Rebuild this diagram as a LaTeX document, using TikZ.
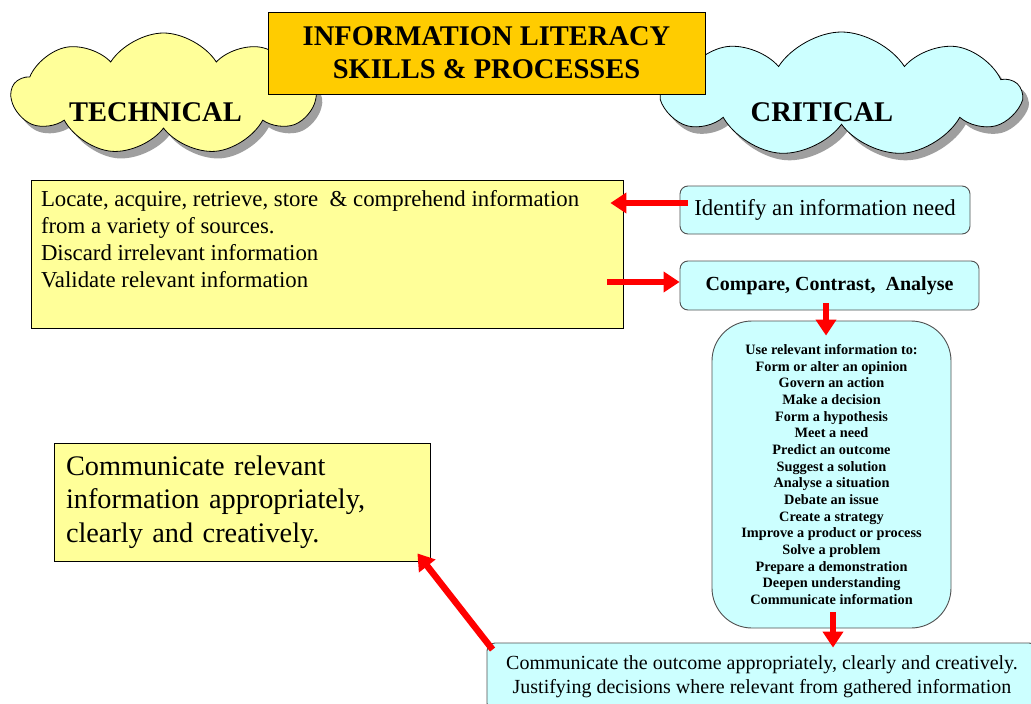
\documentclass[tikz,border=0pt]{standalone}
\usepackage{fontspec}
\setmainfont{Liberation Serif}[BoldFont={Liberation Serif Bold}]
\usetikzlibrary{shapes.symbols,shadows,arrows.meta}
\definecolor{lyellow}{HTML}{FFFF99}
\definecolor{lcyan}{HTML}{CCFFFF}
\definecolor{gold}{HTML}{FFCC00}
\definecolor{edgegray}{HTML}{505050}
\begin{document}
\begin{tikzpicture}[x=1pt,y=-1pt,
  cloudbox/.style={cloud, cloud puffs=9, cloud puff arc=115, cloud ignores aspect,
    draw=black, line width=0.8pt, inner sep=0pt,
    drop shadow={shadow xshift=6pt, shadow yshift=-7pt, fill=gray!75, opacity=1},
    font=\fontsize{28.5}{32}\selectfont\bfseries},
  sqbox/.style={draw=black, line width=0.8pt, fill=lyellow, inner sep=0pt},
  rbox/.style={draw=edgegray, line width=0.9pt, fill=lcyan, rounded corners=8pt, align=center},
  redarrow/.style={draw=red, line width=6.5pt, -{Triangle[width=20pt,length=16pt]}}
]
\useasboundingbox (0,0) rectangle (1031,704);
\fill[white] (0,0) rectangle (1031,704);

% clouds
\node[cloudbox, fill=lyellow, minimum width=303pt, minimum height=122pt] (tech) at (163.5,94)
  {\raisebox{-27.5pt}[0pt][0pt]{\makebox[0pt]{TECHNICAL\hspace*{16pt}}}};
\node[cloudbox, fill=lcyan, minimum width=357pt, minimum height=125pt] (crit) at (841.5,94.5)
  {\raisebox{-27pt}[0pt][0pt]{\makebox[0pt]{CRITICAL\hspace*{39pt}}}};

% title
\node[draw=black, line width=0.8pt, fill=gold, minimum width=437pt, minimum height=82pt,
  align=center, font=\fontsize{28.5}{33}\selectfont\bfseries] (title) at (486.5,53)
  {INFORMATION LITERACY\\SKILLS \& PROCESSES};

% technical boxes
\node[sqbox, minimum width=592pt, minimum height=148pt] (box1) at (327,254)
  {\parbox[c][128pt][t]{572pt}{\fontsize{22.8}{27}\selectfont
   Locate, acquire, retrieve, store \ \& comprehend information\\
   from a variety of sources.\\
   Discard irrelevant information\\
   Validate relevant information}};

\node[sqbox, text width=352pt, inner xsep=12pt, minimum height=118pt, align=left,
  font=\fontsize{28.3}{33.5}\selectfont] (comm) at (242,502)
  {Communicate relevant\\information appropriately,\\clearly and creatively.};

% critical boxes
\node[rbox, minimum width=290pt, minimum height=48pt, font=\fontsize{22.8}{24}\selectfont]
  (identify) at (825,210) {Identify an information need};
\node[rbox, minimum width=299pt, minimum height=49pt, font=\fontsize{20}{22}\selectfont\bfseries]
  (compare) at (829.5,285.5) {Compare, Contrast, \ Analyse};
\node[rbox, rounded corners=40pt, minimum width=239pt, minimum height=307pt,
  font=\fontsize{14.3}{16.67}\selectfont\bfseries] (use) at (831.5,474.5)
  {Use relevant information to:\\Form or alter an opinion\\Govern an action\\Make a decision\\
   Form a hypothesis\\Meet a need\\Predict an outcome\\Suggest a solution\\Analyse a situation\\
   Debate an issue\\Create a strategy\\Improve a product or process\\Solve a problem\\
   Prepare a demonstration\\Deepen understanding\\Communicate information};
\node[rbox, minimum width=550pt, minimum height=68pt, font=\fontsize{20}{24}\selectfont]
  (bottom) at (762,677)
  {Communicate the outcome appropriately, clearly and creatively.\\
   Justifying decisions where relevant from gathered information};

% arrows
\draw[redarrow, shorten <=-8pt, shorten >=-13pt] ([yshift=7pt]identify.west) -- ([yshift=7pt]identify.west -| box1.east);
\draw[redarrow, shorten <=-16pt] ([yshift=3.5pt]compare.west -| box1.east) -- ([yshift=3.5pt]compare.west);
\draw[redarrow, shorten <=-7pt, shorten >=-15pt] ([xshift=-3.5pt]compare.south) -- ([xshift=-3.5pt]compare.south |- use.north);
\draw[redarrow, shorten <=-16pt, shorten >=-5pt] ([xshift=1.5pt]use.south) -- ([xshift=1.5pt]use.south |- bottom.north);
\draw[redarrow] ([xshift=6pt,yshift=-7pt]bottom.north west) -- ([xshift=-13pt,yshift=8pt]comm.south east);
\end{tikzpicture}
\end{document}
